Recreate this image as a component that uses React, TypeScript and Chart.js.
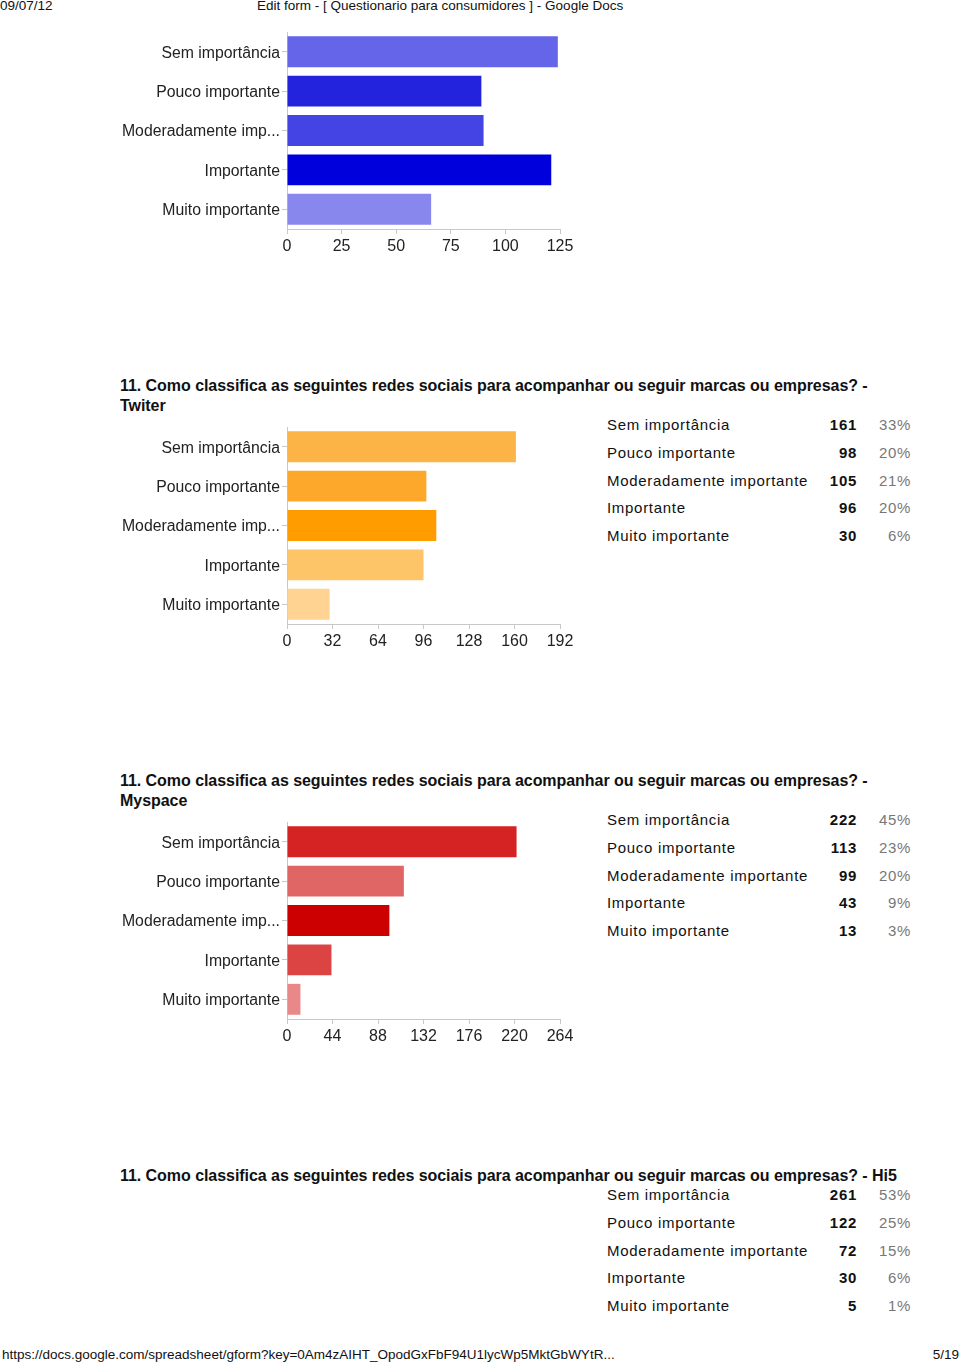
import React, { useEffect, useRef } from "react";
import { Chart, registerables } from "chart.js";

Chart.register(...registerables);

// ---------- data ----------
const categories = ["Sem importância", "Pouco importante", "Moderadamente importante", "Importante", "Muito importante"];
const axisLabels = ["Sem importância", "Pouco importante", "Moderadamente imp...", "Importante", "Muito importante"];

const firstValues = [124, 89, 90, 121, 66];
const firstMax = 125;
const firstStep = 25;
const firstColors = ["#6565E9", "#2323DE", "#4444E4", "#0000DD", "#8787EE"];

const twiterTitle = "11. Como classifica as seguintes redes sociais para acompanhar ou seguir marcas ou empresas? - Twiter";
const twiterValues = [161, 98, 105, 96, 30];
const twiterPercents = ["33%", "20%", "21%", "20%", "6%"];
const twiterMax = 192;
const twiterStep = 32;
const twiterColors = ["#FDB446", "#FDA82B", "#FF9C00", "#FEC468", "#FFD391"];

const myspaceTitle = "11. Como classifica as seguintes redes sociais para acompanhar ou seguir marcas ou empresas? - Myspace";
const myspaceValues = [222, 113, 99, 43, 13];
const myspacePercents = ["45%", "23%", "20%", "9%", "3%"];
const myspaceMax = 264;
const myspaceStep = 44;
const myspaceColors = ["#D52222", "#E06666", "#CC0000", "#DC4444", "#E88888"];

const hi5Title = "11. Como classifica as seguintes redes sociais para acompanhar ou seguir marcas ou empresas? - Hi5";
const hi5Values = [261, 122, 72, 30, 5];
const hi5Percents = ["53%", "25%", "15%", "6%", "1%"];

const headerDate = "09/07/12";
const headerTitle = "Edit form - [ Questionario para consumidores ] - Google Docs";
const footerUrl = "https://docs.google.com/spreadsheet/gform?key=0Am4zAIHT_OpodGxFbF94U1lycWp5MktGbWYtR...";
const footerPage = "5/19";

// ---------- components ----------
type BarProps = { values: number[]; colors: string[]; max: number; step: number; top: number };

const axisFont = "Arial, 'Liberation Sans', sans-serif";

function BarChart({ values, colors, max, step, top }: BarProps) {
  const ref = useRef<HTMLCanvasElement | null>(null);
  useEffect(() => {
    if (!ref.current) return;
    const chart = new Chart(ref.current, {
      type: "bar",
      data: {
        labels: axisLabels,
        datasets: [
          {
            data: values,
            backgroundColor: colors,
            borderWidth: 0,
            categoryPercentage: 1,
            barPercentage: 0.785,
          },
        ],
      },
      options: {
        indexAxis: "y",
        animation: false,
        responsive: false,
        maintainAspectRatio: false,
        layout: { padding: { top: 7, right: 30, left: 0, bottom: 0 } },
        plugins: { legend: { display: false }, tooltip: { enabled: false }, title: { display: false } },
        scales: {
          x: {
            min: 0,
            max: max,
            ticks: {
              stepSize: step,
              color: "#222",
              font: { family: axisFont, size: 16 },
              padding: 3,
            },
            grid: {
              drawOnChartArea: false,
              drawTicks: true,
              tickLength: 5,
              tickColor: "#c8c8c8",
            },
            border: { color: "#c8c8c8", width: 1 },
            afterFit: (s: any) => {
              s.height = 32;
              s.paddingLeft = 0;
              s.paddingRight = 0;
            },
          },
          y: {
            ticks: {
              color: "#222",
              font: { family: axisFont, size: 15.8 },
              padding: 2,
              labelOffset: 1.5,
              autoSkip: false,
            },
            grid: {
              drawOnChartArea: false,
              drawTicks: true,
              tickLength: 5,
              offset: false,
              tickColor: "#c8c8c8",
            },
            border: { color: "#c8c8c8", width: 1 },
            afterFit: (s: any) => {
              s.width = 177;
              s.paddingTop = 0;
              s.paddingBottom = 0;
            },
          },
        },
      },
    });
    return () => chart.destroy();
  }, []);
  return (
    <canvas
      ref={ref}
      width={480}
      height={236}
      style={{ position: "absolute", left: 110, top: top, width: 480, height: 236 }}
    />
  );
}

function Title({ text, top }: { text: string; top: number }) {
  return (
    <div
      style={{
        position: "absolute",
        left: 120,
        top: top,
        width: 784,
        fontFamily: "'Liberation Sans Narrow', 'Arial Narrow', Arial, sans-serif",
        fontWeight: "bold",
        fontSize: 16,
        letterSpacing: "-0.05px",
        lineHeight: "20px",
        color: "#111",
      }}
    >
      {text}
    </div>
  );
}

const cellStyle: React.CSSProperties = {
  position: "absolute",
  fontFamily: axisFont,
  fontSize: 15,
  letterSpacing: "0.7px",
  lineHeight: "18px",
  color: "#111",
  whiteSpace: "nowrap",
};

function Table({ values, percents, top }: { values: number[]; percents: string[]; top: number }) {
  const rowH = 27.75;
  return (
    <div>
      {categories.map((c, i) => (
        <React.Fragment key={c}>
          <div style={{ ...cellStyle, left: 607, top: top + i * rowH }}>{c}</div>
          <div
            style={{ ...cellStyle, left: 796, width: 61, textAlign: "right", top: top + i * rowH, fontWeight: "bold" }}
          >
            {values[i]}
          </div>
          <div style={{ ...cellStyle, left: 850, width: 61, textAlign: "right", top: top + i * rowH, color: "#777" }}>
            {percents[i]}
          </div>
        </React.Fragment>
      ))}
    </div>
  );
}

export default function App() {
  const narrow = "'Liberation Sans Narrow', 'Arial Narrow', Arial, sans-serif";
  const small: React.CSSProperties = {
    position: "absolute",
    fontFamily: narrow,
    fontSize: 13.5,
    lineHeight: "15px",
    color: "#111",
    whiteSpace: "nowrap",
  };
  return (
    <div
      style={{
        position: "absolute",
        left: 0,
        top: 0,
        width: 960,
        height: 1364,
        overflow: "hidden",
        background: "#fff",
      }}
    >
      <div style={{ ...small, left: 0, top: -2 }}>{headerDate}</div>
      <div style={{ ...small, left: 257, top: -2 }}>{headerTitle}</div>

      <BarChart values={firstValues} colors={firstColors} max={firstMax} step={firstStep} top={25} />

      <Title text={twiterTitle} top={376} />
      <BarChart values={twiterValues} colors={twiterColors} max={twiterMax} step={twiterStep} top={420} />
      <Table values={twiterValues} percents={twiterPercents} top={416} />

      <Title text={myspaceTitle} top={771} />
      <BarChart values={myspaceValues} colors={myspaceColors} max={myspaceMax} step={myspaceStep} top={815} />
      <Table values={myspaceValues} percents={myspacePercents} top={811} />

      <Title text={hi5Title} top={1166} />
      <Table values={hi5Values} percents={hi5Percents} top={1186} />

      <div style={{ ...small, left: 2, top: 1347 }}>{footerUrl}</div>
      <div style={{ ...small, right: 1, top: 1347 }}>{footerPage}</div>
    </div>
  );
}
